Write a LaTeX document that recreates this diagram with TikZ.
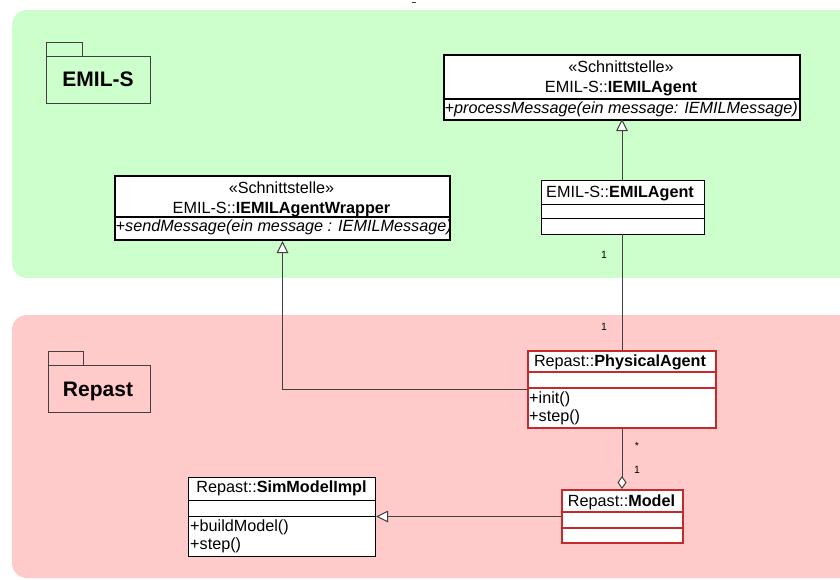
\documentclass[tikz,border=0pt]{standalone}
\usepackage{fontspec}
\setmainfont{Liberation Sans}
\usetikzlibrary{arrows.meta}
\definecolor{pkggreen}{HTML}{CCFFCC}
\definecolor{pkgpink}{HTML}{FFCACA}
\definecolor{clsred}{HTML}{C42A2A}
\definecolor{linegray}{HTML}{404040}
\tikzset{
  region/.style={rounded corners=15pt, draw=none},
  pkgline/.style={draw=linegray, line width=0.9pt, fill=none},
  pkglabel/.style={font=\fontsize{21}{24}\selectfont\bfseries, anchor=base, inner sep=0pt},
  ifacebox/.style={draw=black, line width=2pt, fill=white, inner sep=0pt},
  plainbox/.style={draw=black, line width=1pt, fill=white, inner sep=0pt},
  redbox/.style={draw=clsred, line width=2pt, fill=white, inner sep=0pt},
  divblack/.style={draw=black, line width=1pt},
  divthick/.style={draw=black, line width=1.6pt},
  divred/.style={draw=clsred, line width=2pt},
  ctext/.style={font=\fontsize{16.2}{19}\selectfont, anchor=base, inner sep=0pt},
  ltext/.style={font=\fontsize{16.2}{19}\selectfont, anchor=base west, inner sep=0pt},
  itext/.style={font=\fontsize{16.2}{19}\selectfont\itshape, anchor=base west, inner sep=0pt},
  mult/.style={font=\fontsize{10.5}{12}\selectfont, inner sep=0pt},
  conn/.style={draw=linegray, line width=1pt},
  gen/.style={conn, -{Triangle[fill=white, length=12pt, width=11.5pt, line width=1pt]}},
  agg/.style={conn, -{Diamond[fill=white, length=13pt, width=9pt, line width=1pt]}}
}
\begin{document}
\begin{tikzpicture}[x=1pt,y=-1pt]
\useasboundingbox (0,0) rectangle (840,579);
% regions
\fill[pkggreen, region] (12,10) rectangle (870,278);
\fill[pkgpink, region] (12,315) rectangle (870,578);
% stray mark
\draw[linegray, line width=1.2pt] (412,2.5) -- (416,2.5);

% packages
\draw[pkgline] (46,56) -- (46,42) -- (82,42) -- (82,56);
\node[pkgline, draw, minimum width=104pt, minimum height=47pt, anchor=north west] (pkgemil) at (46,56) {};
\node[pkglabel] (lblemil) at (98,86) {EMIL-S};
\draw[pkgline] (48,365) -- (48,351) -- (83,351) -- (83,365);
\node[pkgline, draw, minimum width=102pt, minimum height=47pt, anchor=north west] (pkgrep) at (48,365) {};
\node[pkglabel] (lblrep) at (98,396) {Repast};

% IEMILAgentWrapper
\node[ifacebox, minimum width=335pt, minimum height=64pt, anchor=north west] (wrap) at (114,175) {};
\draw[divthick] (114,217) -- (449,217);
\node[ctext] (wrapst) at (281.5,193) {«Schnittstelle»};
\node[ctext] (wrapnm) at (281.5,213) {EMIL-S::\textbf{IEMILAgentWrapper}};
\node[itext] (wrapop) at (115.5,231) {+sendMessage(ein message : IEMILMessage)};

% IEMILAgent
\node[ifacebox, minimum width=356pt, minimum height=65pt, anchor=north west] (iagent) at (443,54) {};
\draw[divthick] (443,99) -- (799,99);
\node[ctext] (iagst) at (621,72) {«Schnittstelle»};
\node[ctext] (iagnm) at (621,92) {EMIL-S::\textbf{IEMILAgent}};
\node[itext] (iagop) at (444.5,113) {+processMessage(ein message: IEMILMessage)};

% EMILAgent
\node[plainbox, minimum width=163pt, minimum height=54pt, anchor=north west] (emil) at (541,180) {};
\draw[divblack] (541,204) -- (704,204);
\draw[divblack] (541,218) -- (704,218);
\node[ctext] (emilnm) at (620,197) {EMIL-S::\textbf{EMILAgent}};

% PhysicalAgent
\node[redbox, minimum width=188pt, minimum height=77pt, anchor=north west] (phys) at (527,350) {};
\draw[divred] (527,372) -- (715,372);
\draw[divred] (527,388) -- (715,388);
\node[ctext] (physnm) at (620,366) {Repast::\textbf{PhysicalAgent}};
\node[ltext] (physop1) at (529,403) {+init()};
\node[ltext] (physop2) at (529,421) {+step()};

% Model
\node[redbox, minimum width=121pt, minimum height=53pt, anchor=north west] (model) at (561,489) {};
\draw[divred] (561,512) -- (682,512);
\draw[divred] (561,528) -- (682,528);
\node[ctext] (modelnm) at (621.5,506) {Repast::\textbf{Model}};

% SimModelImpl
\node[plainbox, minimum width=187pt, minimum height=79pt, anchor=north west] (sim) at (188,477) {};
\draw[divblack] (188,500) -- (375,500);
\draw[divblack] (188,516) -- (375,516);
\node[ctext] (simnm) at (281.5,492) {Repast::\textbf{SimModelImpl}};
\node[ltext] (simop1) at (190,531) {+buildModel()};
\node[ltext] (simop2) at (190,549) {+step()};

% connectors
\draw[gen] (emil.north -| 622,0) -- (622,119);
\draw[conn] (622,234) -- (622,350);
\node[mult] (m1) at (604,255) {1};
\node[mult] (m2) at (604,327) {1};
\draw[gen] (phys.west) -| (wrap.south);
\draw[agg] (phys.south -| 622,0) -- (622,489);
\node[mult] (m3) at (637,446) {*};
\node[mult] (m4) at (637,470) {1};
\draw[gen] (model.west) -- (model.west -| sim.east);
\end{tikzpicture}
\end{document}
